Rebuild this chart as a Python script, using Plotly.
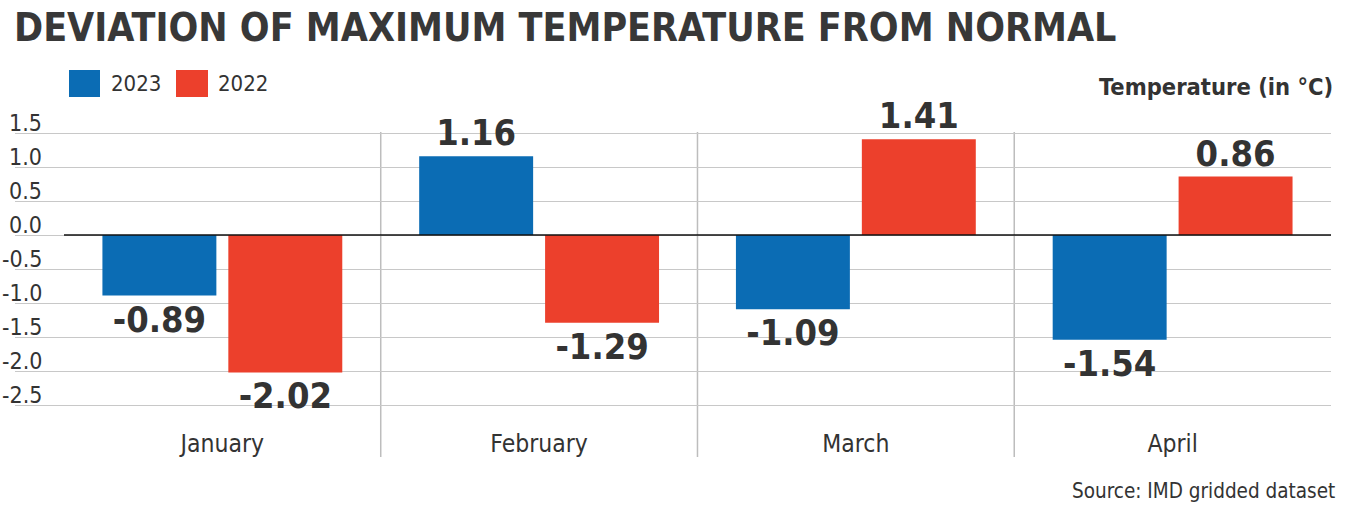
import plotly.graph_objects as go

months = ["January", "February", "March", "April"]
vals_2023 = [-0.89, 1.16, -1.09, -1.54]
vals_2022 = [-2.02, -1.29, 1.41, 0.86]
y_ticks = [1.5, 1.0, 0.5, 0.0, -0.5, -1.0, -1.5, -2.0, -2.5]
y_tick_labels = ["1.5", "1.0", "0.5", "0.0", "-0.5", "-1.0", "-1.5", "-2.0", "-2.5"]

W, H = 1346, 507
ML, MR, MT, MB = 15, 15, 132, 87
PW = W - ML - MR
PH = H - MT - MB
XR = [-0.6546, 3.5]
YR = [-2.72, 1.515]

def px_x(p):
    return (p - ML) / PW

def px_y(p):
    return (H - MB - p) / PH

def data_x(v):
    return (v - XR[0]) / (XR[1] - XR[0])

FONT = "DejaVu Sans Condensed, Liberation Sans Narrow, Arial Narrow, sans-serif"
TXT = "#333333"
BLUE = "#0b6cb4"
RED = "#ec402c"

x_idx = list(range(len(months)))

fig = go.Figure()
fig.add_trace(go.Bar(
    x=x_idx, y=vals_2023, name="2023", marker=dict(color=BLUE, line=dict(width=0)),
    text=[f"{v:.2f}" for v in vals_2023], textposition="outside", cliponaxis=False,
    constraintext="none",
    textfont=dict(family=FONT, size=36, color=TXT, weight="bold"),
))
fig.add_trace(go.Bar(
    x=x_idx, y=vals_2022, name="2022", marker=dict(color=RED, line=dict(width=0)),
    text=[f"{v:.2f}" for v in vals_2022], textposition="outside", cliponaxis=False,
    constraintext="none",
    textfont=dict(family=FONT, size=36, color=TXT, weight="bold"),
))

shapes = []
# zero line
shapes.append(dict(type="line", xref="x", yref="y", x0=-0.5, x1=3.5, y0=0, y1=0,
                   line=dict(color="#111111", width=1.5), layer="above"))
# month separators
for i in range(1, len(months)):
    xp = data_x(i - 0.5)
    shapes.append(dict(type="line", xref="paper", yref="paper", x0=xp, x1=xp,
                       y0=px_y(457), y1=px_y(132), line=dict(color="#bdbdbd", width=1.5),
                       layer="below"))
# legend boxes
for (x0, x1, c) in [(69, 100, BLUE), (176, 208, RED)]:
    shapes.append(dict(type="rect", xref="paper", yref="paper", x0=px_x(x0), x1=px_x(x1),
                       y0=px_y(97), y1=px_y(70), fillcolor=c, line=dict(width=0)))

annotations = []
for v, t in zip(y_ticks, y_tick_labels):
    annotations.append(dict(xref="paper", yref="y", x=px_x(44), y=v, text=t, showarrow=False,
                            xanchor="right", yanchor="bottom", yshift=-5,
                            font=dict(family=FONT, size=23, color=TXT)))
annotations.append(dict(xref="paper", yref="paper", x=px_x(12), y=px_y(28), text="DEVIATION OF MAXIMUM TEMPERATURE FROM NORMAL",
                        showarrow=False, xanchor="left", yanchor="middle",
                        font=dict(family=FONT, size=39, color="#383838", weight="bold")))
for (x0, t) in [(109, "2023"), (216, "2022")]:
    annotations.append(dict(xref="paper", yref="paper", x=px_x(x0), y=px_y(84), text=t,
                            showarrow=False, xanchor="left", yanchor="middle",
                            font=dict(family=FONT, size=22, color=TXT)))
annotations.append(dict(xref="paper", yref="paper", x=px_x(1335), y=px_y(87), text="Temperature (in °C)",
                        showarrow=False, xanchor="right", yanchor="middle",
                        font=dict(family=FONT, size=23.5, color=TXT, weight="bold")))
annotations.append(dict(xref="paper", yref="paper", x=px_x(1337), y=px_y(491), text="Source: IMD gridded dataset",
                        showarrow=False, xanchor="right", yanchor="middle",
                        font=dict(family=FONT, size=20.5, color=TXT)))

fig.update_layout(
    width=W, height=H,
    margin=dict(l=ML, r=MR, t=MT, b=MB),
    paper_bgcolor="white", plot_bgcolor="white",
    barmode="group", bargap=0.205, bargroupgap=0.095,
    showlegend=False,
    shapes=shapes, annotations=annotations,
    xaxis=dict(range=XR, tickvals=x_idx, ticktext=months, showgrid=False, zeroline=False,
               showline=False, ticks="", tickfont=dict(family=FONT, size=24.5, color=TXT),
               ticklabelstandoff=6, fixedrange=True),
    yaxis=dict(range=YR, tickvals=y_ticks, showticklabels=False, showgrid=True,
               gridcolor="#c8c8c8", gridwidth=1, zeroline=False, showline=False, ticks="",
               fixedrange=True),
    font=dict(family=FONT, color=TXT),
)

fig.write_html("out.html")
